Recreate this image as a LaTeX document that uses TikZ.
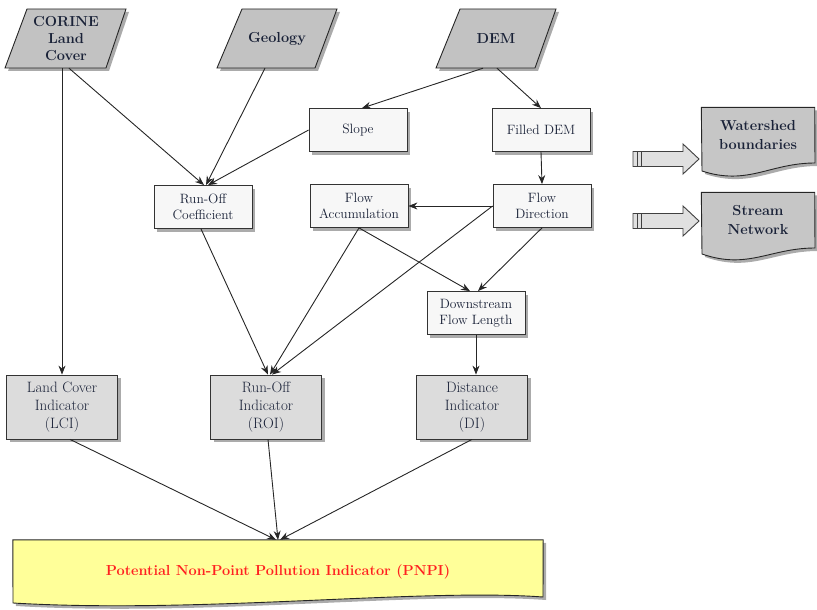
\documentclass[tikz,border=0pt]{standalone}
\usetikzlibrary{shadows,arrows.meta,calc}
\definecolor{paragray}{HTML}{C2C2C2}
\definecolor{boxwhite}{HTML}{F7F7F7}
\definecolor{indgray}{HTML}{DCDCDC}
\definecolor{docgray}{HTML}{C6C6C6}
\definecolor{pnpiyellow}{HTML}{FFFF99}
\definecolor{pnpired}{HTML}{FF2020}
\definecolor{textblue}{HTML}{1A2238}
\begin{document}
\begin{tikzpicture}[x=1pt,y=-1pt,
  shad/.style={drop shadow={shadow xshift=3pt,shadow yshift=-3pt,fill=black!55,opacity=0.6}},
  smallbox/.style={draw=black!80,line width=0.8pt,fill=boxwhite,align=center,
    font=\fontsize{13.5}{16}\selectfont,text=textblue,minimum width=98pt,minimum height=43pt,inner sep=1pt,shad},
  indbox/.style={draw=black!80,line width=0.8pt,fill=indgray,align=center,
    font=\fontsize{15}{18}\selectfont,text=textblue,minimum width=111pt,minimum height=64pt,inner sep=1pt,shad},
  parashape/.style={draw=black!85,line width=0.9pt,fill=paragray,shad},
  paratext/.style={align=center,font=\bfseries\fontsize{14.5}{17}\selectfont,text=textblue,inner sep=0pt,minimum height=59pt},
  docshape/.style={draw=black!85,line width=0.9pt,fill=docgray,shad},
  doctext/.style={align=center,font=\bfseries\fontsize{14.5}{19}\selectfont,text=textblue,inner sep=0pt},
  blockarrow/.style={draw=black!75,line width=0.9pt,fill=black!12},
  arr/.style={draw=black!85,line width=0.9pt,-{Stealth[length=9pt,width=7pt]}}]
\useasboundingbox (0,0) rectangle (817,610);

% input parallelograms
\path[parashape] (27,9) -- (126,9) -- (106,68) -- (5,68) -- cycle;
\node[paratext] (corine) at (66,38.5) {CORINE\\Land\\Cover};
\path[parashape] (242,9) -- (337,9) -- (315,68) -- (217,68) -- cycle;
\node[paratext] (geology) at (277,38.5) {Geology};
\path[parashape] (460,9) -- (556,9) -- (535,68) -- (436,68) -- cycle;
\node[paratext] (dem) at (496,38.5) {DEM};

% processing boxes
\node[smallbox] (slope)  at (358,130) {Slope};
\node[smallbox] (filled) at (541,130) {Filled DEM};
\node[smallbox] (roc)    at (203,207) {Run-Off\\Coefficient};
\node[smallbox] (facc)   at (359,206) {Flow\\Accumulation};
\node[smallbox] (fdir)   at (542,206) {Flow\\Direction};
\node[smallbox] (dfl)    at (476,313) {Downstream\\Flow Length};

% indicators
\node[indbox] (lci) at (62,407)  {Land Cover\\Indicator\\(LCI)};
\node[indbox] (roi) at (266,407) {Run-Off\\Indicator\\(ROI)};
\node[indbox] (di)  at (472,407) {Distance\\Indicator\\(DI)};

% outputs (document shapes)
\node[inner sep=0pt,minimum width=113pt,minimum height=55pt] (ws) at (758,135) {};
\path[docshape] (ws.north west) -- (ws.north east) -- (815,163)
  .. controls (770,163) and (748,186) .. (702,171) -- cycle;
\node[doctext] (wstext) at (ws) {Watershed\\boundaries};
\node[inner sep=0pt,minimum width=113pt,minimum height=55pt] (sn) at (758,220) {};
\path[docshape] (sn.north west) -- (sn.north east) -- (815,248)
  .. controls (770,248) and (748,270) .. (702,254) -- cycle;
\node[doctext] (sntext) at (sn) {Stream\\Network};

% block arrows
\foreach \yc in {159,221}{
  \path[blockarrow] (633,\yc-7.5) -- (683,\yc-7.5) -- (683,\yc-15) -- (699,\yc) -- (683,\yc+15)
    -- (683,\yc+7.5) -- (633,\yc+7.5) -- cycle;
  \draw[black!75,line width=0.9pt] (637,\yc-7.5) -- (637,\yc+7.5) (641,\yc-7.5) -- (641,\yc+7.5);
}

% PNPI
\node[inner sep=0pt,minimum width=530pt,minimum height=56pt] (pnpi) at (278,568) {};
\path[draw=black!85,line width=0.9pt,fill=pnpiyellow,shad] (pnpi.north west) -- (pnpi.north east) -- (543,597)
  .. controls (420,588) and (200,614) .. (13,603) -- cycle;
\node[font=\bfseries\fontsize{14.5}{17}\selectfont,text=pnpired] (pnpitext) at (278,572) {Potential Non-Point Pollution Indicator (PNPI)};

% connectors
\draw[arr] (lci.north |- corine.south) -- (lci.north);
\draw[arr] ([xshift=3pt]corine.south) -- ([xshift=1pt]roc.north);
\draw[arr] ([xshift=-12pt]geology.south) -- ([xshift=3pt]roc.north);
\draw[arr] (slope.west) -- ([xshift=5pt]roc.north);
\draw[arr] ([xshift=-13pt]dem.south) -- ([xshift=4pt]slope.north);
\draw[arr] ([xshift=1pt]dem.south) -- (filled.north);
\draw[arr] (filled.south) -- (fdir.north);
\draw[arr] (fdir.west) -- (facc.east);
\draw[arr] ([xshift=-2pt]roc.south) -- ([xshift=2pt]roi.north);
\draw[arr] (facc.south) -- ([xshift=4pt]roi.north);
\draw[arr] (fdir.west) -- ([xshift=6pt]roi.north);
\draw[arr] (facc.south) -- ([xshift=-6pt]dfl.north);
\draw[arr] (fdir.south) -- ([xshift=2pt]dfl.north);
\draw[arr] (dfl.south) -- (di.north -| dfl.south);
\draw[arr] ([xshift=8pt]lci.south) -- ([xshift=-2pt]pnpi.north);
\draw[arr] ([xshift=2pt]roi.south) -- (pnpi.north);
\draw[arr] (di.south) -- ([xshift=2pt]pnpi.north);
\end{tikzpicture}
\end{document}
